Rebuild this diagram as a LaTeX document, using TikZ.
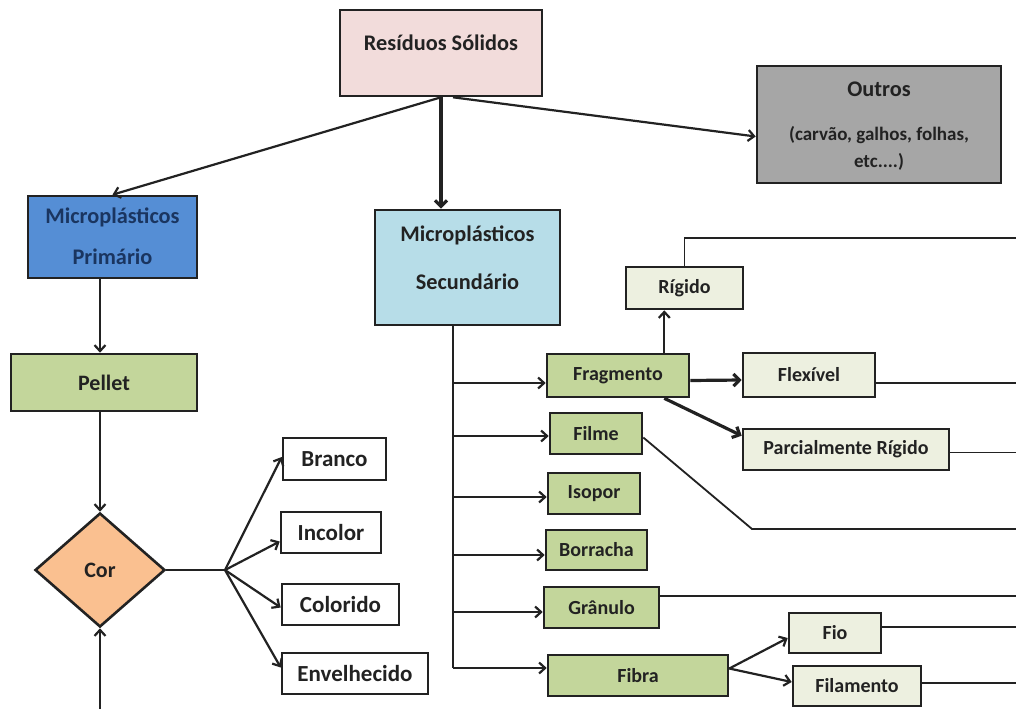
\documentclass[tikz,border=0pt]{standalone}
\usepackage{fontspec}
\setmainfont{Carlito}
\usetikzlibrary{arrows.meta,shapes.geometric,calc}

\definecolor{pinkbox}{HTML}{F2DCDB}
\definecolor{bluebox}{HTML}{558ED5}
\definecolor{navy}{HTML}{1A3560}
\definecolor{skybox}{HTML}{B7DDE8}
\definecolor{greybox}{HTML}{A6A6A6}
\definecolor{olivebox}{HTML}{C3D69B}
\definecolor{paleolive}{HTML}{EDF0E0}
\definecolor{peach}{HTML}{FAC090}
\definecolor{ink}{HTML}{222222}

\begin{document}
\begin{tikzpicture}[x=1pt,y=-1pt,
  box/.style={draw=ink, line width=2.6pt, inner sep=0pt, text=ink,
    font=\bfseries\fontsize{20}{24}\selectfont},
  big/.style={font=\bfseries\fontsize{22}{26}\selectfont},
  huge/.style={font=\bfseries\fontsize{23}{27}\selectfont},
  lbl/.style={inner sep=0pt, text=ink, font=\bfseries\fontsize{22.3}{26}\selectfont},
  small/.style={inner sep=0pt, text=ink, font=\bfseries\fontsize{19}{23}\selectfont},
  thin/.style={draw=ink, line width=1.8pt},
  arr/.style={draw=ink, line width=2.2pt, -{Straight Barb[length=6pt,width=11pt]}},
  thick/.style={draw=ink, line width=3.2pt, -{Straight Barb[length=6pt,width=12pt]}}
]
\useasboundingbox (0,0) rectangle (1016,709);
\fill[white] (0,0) rectangle (1016,709);
\coordinate (edge) at (1016,0);

% top level
\node[box, fill=pinkbox, minimum width=202pt, minimum height=86pt] (res) at (441,53) {};
\node[lbl] (resT) at (441,43) {Resíduos Sólidos};

\node[box, fill=bluebox, minimum width=169pt, minimum height=82pt] (prim) at (112.5,237) {};
\node[lbl, text=navy] (primA) at (112.5,217) {Microplásticos};
\node[lbl, text=navy] (primB) at (112.5,257) {Primário};

\node[box, fill=skybox, minimum width=185pt, minimum height=115pt] (sec) at (467.5,267.5) {};
\node[lbl] (secA) at (467.5,235) {Microplásticos};
\node[lbl] (secB) at (467.5,282) {Secundário};

\node[box, fill=greybox, minimum width=244pt, minimum height=117pt] (out) at (879,124.5) {};
\node[lbl] (outA) at (879,89) {Outros};
\node[small] (outB) at (879,135) {(carvão, galhos, folhas,};
\node[small] (outC) at (879,162) {etc....)};

\draw[arr] (res.south) -- (prim.north);
\draw[thick] (res.south) -- (res.south |- sec.north);
\draw[arr] ([xshift=12pt]res.south) -- ([yshift=-12pt]out.west);

% primary branch
\node[box, big, fill=olivebox, minimum width=186pt, minimum height=57pt] (pel) at (104,382.5) {Pellet};
\node[box, big, fill=peach, diamond, minimum width=130pt, minimum height=114pt] (cor) at (100,570) {Cor};
\coordinate (bot) at (100,709);
\coordinate (fan) at (225,570);

\draw[arr] (cor.north |- prim.south) -- (cor.north |- pel.north);
\draw[arr] (cor.north |- pel.south) -- (cor.north);
\draw[arr] (bot) -- (cor.south);

\node[box, huge, fill=white, minimum width=103pt, minimum height=42pt] (bra) at (334.5,459) {Branco};
\node[box, huge, fill=white, minimum width=100pt, minimum height=41pt] (inc) at (331,532.5) {Incolor};
\node[box, huge, fill=white, minimum width=117pt, minimum height=41pt] (col) at (340.5,604.5) {Colorido};
\node[box, huge, fill=white, minimum width=146pt, minimum height=41pt] (env) at (355,673.5) {Envelhecido};

\draw[thin] (cor.east) -- (fan);
\draw[arr] (fan) -- ([yshift=2pt]bra.west);
\draw[arr] (fan) -- ([yshift=-9pt]inc.west);
\draw[arr] (fan) -- ([yshift=-3pt]col.west);
\draw[arr] (fan) -- ([yshift=6pt]env.west);

% secondary branch
\node[box, fill=olivebox, minimum width=142pt, minimum height=43pt] (frag) at (618,375.5) {Fragmento};
\node[box, fill=olivebox, minimum width=92pt, minimum height=41pt] (fil) at (596,433.5) {Filme};
\node[box, fill=olivebox, minimum width=92pt, minimum height=41pt] (iso) at (594,493.5) {Isopor};
\node[box, fill=olivebox, minimum width=101pt, minimum height=40pt] (bor) at (596.5,550) {Borracha};
\node[box, fill=olivebox, minimum width=115pt, minimum height=41pt] (gra) at (601.5,607.5) {Grânulo};
\node[box, fill=olivebox, minimum width=180pt, minimum height=41pt] (fib) at (638,675.5) {Fibra};

\node[box, fill=paleolive, minimum width=117pt, minimum height=42pt] (rig) at (684.5,288) {Rígido};
\node[box, fill=paleolive, minimum width=132pt, minimum height=44pt] (flx) at (809,375) {Flexível};
\node[box, fill=paleolive, minimum width=206pt, minimum height=41pt] (par) at (846,449.5) {Parcialmente Rígido};
\node[box, fill=paleolive, minimum width=92pt, minimum height=40pt] (fio) at (835,633) {Fio};
\node[box, fill=paleolive, minimum width=128pt, minimum height=40pt] (fla) at (857,686) {Filamento};

% trunk below the secondary box
\coordinate (t0) at (453,325);
\coordinate (t1) at (453,383);
\coordinate (t2) at (453,436);
\coordinate (t3) at (453,497);
\coordinate (t4) at (453,555);
\coordinate (t5) at (453,612);
\coordinate (t6) at (453,668);
\draw[thin] (t0) -- (t6);
\draw[arr] (t1) -- (t1 -| frag.west);
\draw[arr] (t2) -- (t2 -| fil.west);
\draw[arr] (t3) -- (t3 -| iso.west);
\draw[arr] (t4) -- (t4 -| bor.west);
\draw[arr] (t5) -- (t5 -| gra.west);
\draw[arr] (t6) -- (t6 -| fib.west);

% fragment subtypes
\path ([xshift=-26pt]frag.north east) coordinate (fN)
      ([xshift=-26pt]frag.south east) coordinate (fS);
\draw[arr] (fN) -- (fN |- rig.south);
\draw[thick] ([yshift=-5pt]frag.east) -- ([yshift=-5pt]flx.west);
\draw[thick] (fS) -- ([yshift=-8pt]par.north west);

% lines running off to the right
\coordinate (rtop) at (684,238);
\draw[thin] (rig.north) |- (rtop -| edge);
\draw[thin] ([yshift=-8pt]flx.east) -- ([yshift=-8pt]flx.east -| edge);
\draw[thin] ([yshift=-3pt]par.east) -- ([yshift=-3pt]par.east -| edge);
\coordinate (bend) at (752,529);
\draw[thin] ([yshift=-4pt]fil.east) -- (bend) -- (bend -| edge);
\path ([yshift=-10pt]gra.north east) coordinate (g1);
\draw[thin] (g1) -- (g1 -| edge);
\path ([yshift=6pt]fio.east) coordinate (f1);
\draw[thin] (f1) -- (f1 -| edge);
\path ([yshift=3pt]fla.east) coordinate (f2);
\draw[thin] (f2) -- (f2 -| edge);

% fibre subtypes
\path ([yshift=7pt]fib.east) coordinate (fE);
\draw[arr] (fE) -- ([yshift=-5pt]fio.west);
\draw[arr] (fE) -- ([yshift=4pt]fla.west);
\end{tikzpicture}
\end{document}
